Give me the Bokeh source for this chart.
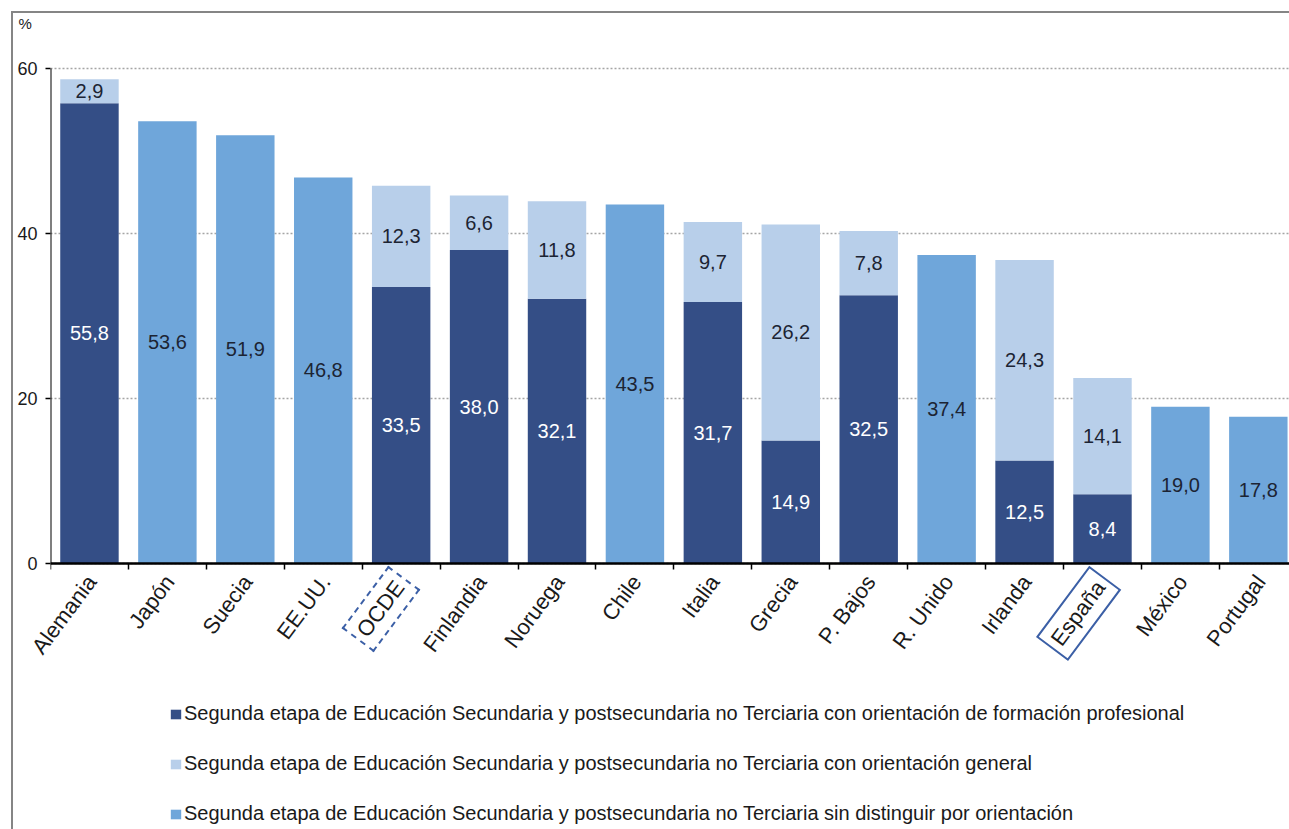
from bokeh.plotting import figure
from bokeh.models import (ColumnDataSource, Range1d, FixedTicker, Legend, LegendItem,
                          Label, LabelSet, Whisker)
from bokeh.core.properties import value
from bokeh.embed import file_html
from bokeh.resources import INLINE

try:
    from bokeh.models import HTMLLabel, HTMLLabelSet
    LabelCls, LabelSetCls = HTMLLabel, HTMLLabelSet
except ImportError:
    LabelCls, LabelSetCls = Label, LabelSet

# ---------------- data ----------------
categories = ["Alemania", "Japón", "Suecia", "EE.UU.", "OCDE", "Finlandia", "Noruega", "Chile",
              "Italia", "Grecia", "P. Bajos", "R. Unido", "Irlanda", "España", "México", "Portugal"]
vocational = [55.8, 0, 0, 0, 33.5, 38.0, 32.1, 0, 31.7, 14.9, 32.5, 0, 12.5, 8.4, 0, 0]
general = [2.9, 0, 0, 0, 12.3, 6.6, 11.8, 0, 9.7, 26.2, 7.8, 0, 24.3, 14.1, 0, 0]
undistinguished = [0, 53.6, 51.9, 46.8, 0, 0, 0, 43.5, 0, 0, 0, 37.4, 0, 0, 19.0, 17.8]
legend_labels = [
    "Segunda etapa de Educación Secundaria y postsecundaria no Terciaria con orientación de formación profesional",
    "Segunda etapa de Educación Secundaria y postsecundaria no Terciaria con orientación general",
    "Segunda etapa de Educación Secundaria y postsecundaria no Terciaria sin distinguir por orientación",
]
y_ticks = [0, 20, 40, 60]
unit_label = "%"
boxed_categories = ["OCDE", "España"]

# ---------------- style ----------------
FONT = "Liberation Sans"
DARK = "#344E86"
LIGHT = "#B8CFEA"
MID = "#6FA6DA"
TEXT_DARK = "#1c2433"
BOX_BLUE = "#3b5fa6"
FRAME_LEFT = 50
FRAME_TOP = 42

n = len(categories)
p = figure(width=1289, height=829, x_range=Range1d(0, 15.9), y_range=Range1d(-32.24, 63.15),
           output_backend="svg", toolbar_location=None,
           min_border_left=FRAME_LEFT, min_border_right=0, min_border_top=FRAME_TOP,
           min_border_bottom=0)
p.outline_line_color = None
p.border_fill_color = None
p.background_fill_color = None
p.styles = {"box-shadow": "inset 11px 11px 0 0 #ffffff, inset 13px 13px 0 0 #858585"}

# unit label as the plot title, top-left
p.title.text = unit_label
p.title.align = "left"
p.title.offset = 18 - FRAME_LEFT
p.title.standoff = 22
p.title.text_font = FONT
p.title.text_font_size = "15px"
p.title.text_font_style = "normal"
p.title.text_color = "#1a1a1a"

xs = [i + 0.5 for i in range(n)]
gen_top = [v + g for v, g in zip(vocational, general)]
src = ColumnDataSource(dict(x=xs, voc=vocational, gen_top=gen_top, und=undistinguished))

r_voc = p.vbar(x="x", bottom=0, top="voc", width=0.75, fill_color=DARK, line_color=None, source=src)
r_gen = p.vbar(x="x", bottom="voc", top="gen_top", width=0.75, fill_color=LIGHT, line_color=None, source=src)
r_und = p.vbar(x="x", bottom=0, top="und", width=0.75, fill_color=MID, line_color=None, source=src)

# value labels
def fmt(v):
    return f"{v:.1f}".replace(".", ",")

lx, ly, lt, lc = [], [], [], []
for i in range(n):
    if vocational[i] > 0:
        lx.append(xs[i]); ly.append(vocational[i] / 2); lt.append(fmt(vocational[i])); lc.append("white")
    if general[i] > 0:
        lx.append(xs[i]); ly.append(vocational[i] + general[i] / 2); lt.append(fmt(general[i])); lc.append(TEXT_DARK)
    if undistinguished[i] > 0:
        lx.append(xs[i]); ly.append(undistinguished[i] / 2); lt.append(fmt(undistinguished[i])); lc.append(TEXT_DARK)
vsrc = ColumnDataSource(dict(x=lx, y=ly, text=lt, color=lc))
p.text(x="x", y="y", text="text", text_color="color", source=vsrc, text_align="center",
       text_baseline="middle", text_font=value(FONT), text_font_size="20px")

# x axis at zero, ticks between categories
xa = p.xaxis[0]
xa.fixed_location = 0
xa.ticker = FixedTicker(ticks=[], minor_ticks=list(range(n + 1)))
xa.axis_line_width = 2.5
xa.axis_line_color = "black"
xa.major_tick_out = 0
xa.major_tick_in = 0
xa.minor_tick_out = 6
xa.minor_tick_in = 0
xa.minor_tick_line_color = "black"
xa.minor_tick_line_width = 1.5
xa.major_label_text_font_size = "0px"
xa.major_label_standoff = 0

# y axis: ticks + labels from the axis, its rule limited to the tick span
ya = p.yaxis[0]
ya.ticker = FixedTicker(ticks=y_ticks, minor_ticks=[])
ya.axis_line_color = None
ya.major_tick_out = 5
ya.major_tick_in = 0
ya.major_tick_line_color = "black"
ya.major_tick_line_width = 1.5
ya.minor_tick_line_color = None
ya.major_label_text_font = FONT
ya.major_label_text_font_size = "18px"
ya.major_label_text_color = "#1a1a1a"
ya.major_label_standoff = 8
p.add_layout(Whisker(base=0, lower=min(y_ticks), upper=max(y_ticks), dimension="height",
                     line_color="black", line_width=2, lower_head=None, upper_head=None))

p.xgrid.visible = False
yg = p.ygrid[0]
yg.grid_line_color = "#a5a5a5"
yg.grid_line_dash = "2 2"
yg.grid_line_width = 1.5

# category labels (rotated), just below the zero line
ANGLE = 0.93
plain = [(xs[i], c) for i, c in enumerate(categories) if c not in boxed_categories]
csrc = ColumnDataSource(dict(x=[a for a, _ in plain], text=[b for _, b in plain]))
p.add_layout(LabelSetCls(x="x", y=0, y_offset=-15, text="text", source=csrc, angle=ANGLE,
                         x_offset=3, text_align="right", text_baseline="middle",
                         text_font=value(FONT), text_font_size="22px", text_color="#1a1a1a"))
for c in boxed_categories:
    i = categories.index(c)
    lab = LabelCls(x=xs[i], y=0, y_offset=-15, text=c, angle=ANGLE, x_offset=3,
                   text_align="right", text_baseline="middle", text_font=FONT,
                   text_font_size="22px", text_color="#1a1a1a",
                   border_line_color=BOX_BLUE, border_line_width=2,
                   border_line_dash="4 3" if c == "OCDE" else "solid")
    if "padding" in lab.properties():
        lab.padding = 5
    p.add_layout(lab)

legend = Legend(items=[LegendItem(label=legend_labels[0], renderers=[r_voc]),
                       LegendItem(label=legend_labels[1], renderers=[r_gen]),
                       LegendItem(label=legend_labels[2], renderers=[r_und])],
                location=(169 - FRAME_LEFT, 4), orientation="vertical",
                label_text_font=FONT, label_text_font_size="20px", label_text_color="#1a1a1a",
                glyph_width=13, glyph_height=12, label_height=20, spacing=27,
                padding=0, margin=0, label_standoff=2,
                border_line_color=None, background_fill_alpha=0)
p.add_layout(legend, "center")

open("out.html", "w").write(file_html(p, INLINE))
